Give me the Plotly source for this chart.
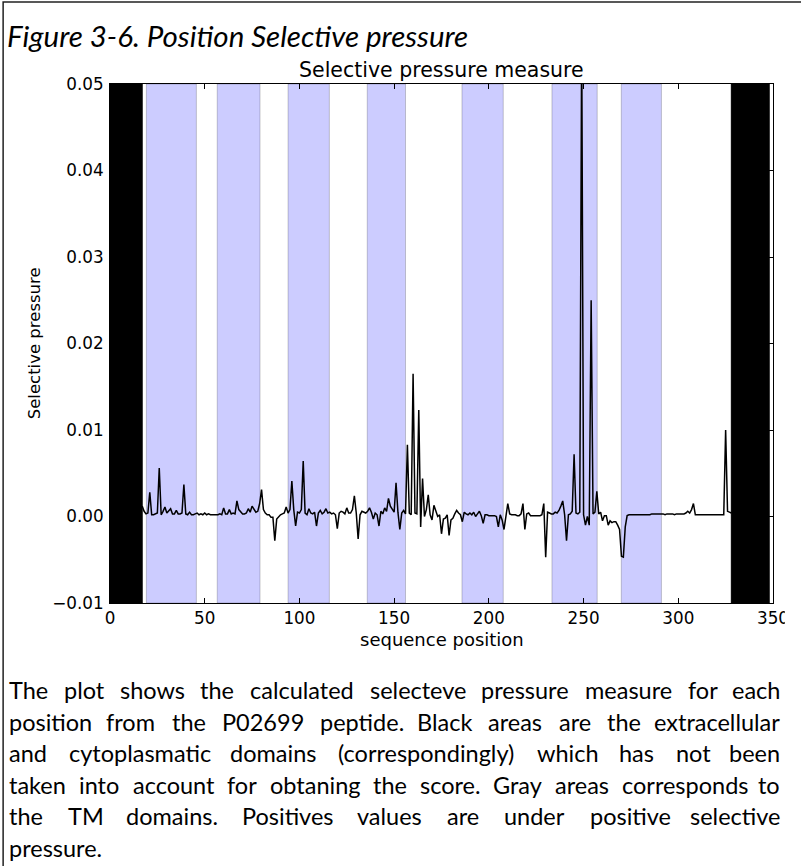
import plotly.graph_objects as go

# ---------------- data ----------------
start_pos = 17
pressure = [
    0.0012, 0.0006, 0.0003, 0.0004, 0.0028, 0.0002, 0.0002, 0.0003, 0.0004, 0.0056,   # 17-26
    0.0002, 0.0006, 0.0011, 0.0004, 0.0006, 0.0009, 0.0003, 0.0003, 0.0007, 0.0003,   # 27-36
    0.0003, 0.0004, 0.0037, 0.0003, 0.0002, 0.0005, 0.0002, 0.0002, 0.0003, 0.0004,   # 37-46
    0.0002, 0.0003, 0.0002, 0.0004, 0.0002, 0.0003, 0.0002, 0.0002, 0.0002, 0.0002,   # 47-56
    0.0002, 0.0003, 0.0002, 0.0010, 0.0003, 0.0003, 0.0008, 0.0003, 0.0004, 0.0003,   # 57-66
    0.0018, 0.0008, 0.0005, 0.0003, 0.0003, 0.0004, 0.0009, 0.0005, 0.0012, 0.0008,   # 67-76
    0.0005, 0.0006, 0.0015, 0.0031, 0.0008, 0.0004, 0.0002, 0.0002, -0.0001, -0.0001, # 77-86
    -0.0028, -0.0003, 0.0000, 0.0002, 0.0003, 0.0004, 0.0011, 0.0004, 0.0008, 0.0041, # 87-96
    0.0008, -0.0011, 0.0005, 0.0004, 0.0008, 0.0064, 0.0004, 0.0002, 0.0009, 0.0004,  # 97-106
    0.0003, 0.0005, -0.0011, 0.0004, 0.0007, 0.0003, 0.0005, 0.0009, 0.0004, 0.0005,  # 107-116
    0.0003, 0.0004, 0.0002, -0.0014, 0.0004, 0.0006, 0.0005, 0.0003, 0.0010, 0.0004,  # 117-126
    0.0004, 0.0008, 0.0024, 0.0004, -0.0026, 0.0002, 0.0006, 0.0005, 0.0004, 0.0006,  # 127-136
    0.0010, 0.0005, -0.0003, 0.0004, 0.0002, -0.0011, 0.0006, 0.0003, 0.0010, 0.0006, # 137-146
    0.0021, 0.0012, 0.0008, 0.0005, 0.0039, 0.0005, -0.0015, 0.0004, 0.0007, 0.0003,  # 147-156
    0.0083, 0.0004, 0.0002, 0.0165, 0.0004, 0.0003, 0.0123, -0.0012, 0.0044, 0.0000,  # 157-166
    0.0008, 0.0025, 0.0002, -0.0004, 0.0013, 0.0005, 0.0000, 0.0002, -0.0020, -0.0003, # 167-176
    -0.0002, 0.0002, -0.0022, -0.0004, -0.0002, 0.0003, 0.0007, 0.0004, 0.0002, -0.0006, # 177-186
    0.0005, 0.0003, 0.0002, 0.0004, 0.0002, 0.0005, 0.0000, 0.0003, 0.0006, 0.0001,   # 187-196
    -0.0008, 0.0002, 0.0002, 0.0001, 0.0001, 0.0001, 0.0001, 0.0000, -0.0012, 0.0002, # 197-206
    -0.0004, -0.0015, 0.0002, 0.0015, 0.0003, 0.0002, 0.0002, 0.0002, 0.0001, 0.0001, # 207-216
    0.0003, 0.0015, -0.0015, 0.0003, 0.0004, 0.0001, 0.0001, 0.0001, 0.0001, 0.0001,  # 217-226
    0.0001, 0.0002, 0.0015, -0.0047, 0.0005, 0.0004, 0.0003, 0.0003, 0.0005, 0.0004,  # 227-236
    0.0007, 0.0012, 0.0018, 0.0002, -0.0028, 0.0002, 0.0003, 0.0006, 0.0072, 0.0004,  # 237-246
    0.0003, 0.0005, 0.0560, 0.0002, -0.0010, 0.0000, -0.0010, 0.0250, 0.0003, 0.0005, # 247-256
    0.0029, 0.0003, 0.0005, -0.0005, 0.0001, 0.0001, -0.0010, -0.0005, -0.0007, -0.0006, # 257-266
    -0.0006, -0.0010, -0.0015, -0.0046, -0.0047, -0.0012, 0.0001, 0.0002, 0.0002, 0.0002, # 267-276
    0.0002, 0.0002, 0.0002, 0.0002, 0.0002, 0.0002, 0.0002, 0.0002, 0.0002, 0.0003,  # 277-286
    0.0003, 0.0003, 0.0003, 0.0003, 0.0003, 0.0003, 0.0002, 0.0003, 0.0003, 0.0003,  # 287-296
    0.0003, 0.0002, 0.0003, 0.0003, 0.0003, 0.0003, 0.0003, 0.0004, 0.0006, 0.0004,  # 297-306
    0.0008, 0.0015, 0.0002, 0.0002, 0.0002, 0.0002, 0.0002, 0.0002, 0.0002, 0.0002,  # 307-316
    0.0002, 0.0002, 0.0002, 0.0002, 0.0002, 0.0002, 0.0002, 0.0002, 0.0100, 0.0006,  # 317-326
    0.0005, 0.0004,                                                                  # 327-328
]
positions = list(range(start_pos, start_pos + len(pressure)))

excluded_start = [0, 328]
excluded_end = [17, 348]
tm_start = [19.2, 56.6, 94.0, 135.8, 185.8, 233.3, 269.9]
tm_end = [45.6, 79.2, 115.8, 156.0, 207.6, 257.2, 291.1]

x_ticks = [0, 50, 100, 150, 200, 250, 300, 350]
y_ticks = [-0.01, 0.00, 0.01, 0.02, 0.03, 0.04, 0.05]

figure_caption = "Figure 3-6. Position Selective pressure"
chart_title = "Selective pressure measure"
x_label = "sequence position"
y_label = "Selective pressure"
paragraph_lines = [
    "The plot shows the calculated selecteve pressure measure for each",
    "position from the P02699 peptide. Black areas are the extracellular",
    "and cytoplasmatic domains (correspondingly) which has not been",
    "taken into account for obtaning the score. Gray areas corresponds to",
    "the TM domains. Positives values are under positive selective",
    "pressure.",
]

# ---------------- layout geometry (pixels) ----------------
W, H = 801, 866
L, R, T, B = 110, 780, 84, 603


def px(x):
    return (x - L) / (R - L)


def py(y):
    return (B - y) / (B - T)


AX_FONT = "DejaVu Sans"
TXT_FONT = "Lato"

fig = go.Figure()
fig.add_trace(go.Scatter(x=positions, y=pressure, mode="lines",
                         line=dict(color="black", width=1.5),
                         hoverinfo="skip", showlegend=False))

shapes = []
for a, b in zip(tm_start, tm_end):
    shapes.append(dict(type="rect", xref="x", yref="paper", x0=a, x1=b, y0=0, y1=1,
                       fillcolor="rgba(0,0,255,0.2)",
                       line=dict(color="rgba(0,0,0,0.2)", width=1), layer="below"))
for a, b in zip(excluded_start, excluded_end):
    shapes.append(dict(type="rect", xref="x", yref="paper", x0=a, x1=b, y0=0, y1=1,
                       fillcolor="black", line=dict(color="black", width=1), layer="below"))
# document frame (left + top edges visible)
shapes.append(dict(type="rect", xref="paper", yref="paper",
                   x0=px(2), x1=px(840), y0=py(900), y1=py(2),
                   line=dict(color="#222", width=1.5), fillcolor="rgba(0,0,0,0)"))
# the source image is cropped just right of the last x tick label
shapes.append(dict(type="rect", xref="paper", yref="paper",
                   x0=px(792), x1=px(805), y0=py(632), y1=py(606),
                   line=dict(width=0), fillcolor="white", layer="above"))

# --------- text ---------
annotations = []
annotations.append(dict(text="<i>" + figure_caption + "</i>", xref="paper", yref="paper",
                        x=px(4), y=py(35), xanchor="left", yanchor="middle", showarrow=False,
                        font=dict(family=TXT_FONT, size=29.5, color="black")))
annotations.append(dict(text=chart_title, xref="paper", yref="paper",
                        x=0.5, y=py(70), xanchor="center", yanchor="middle", showarrow=False,
                        font=dict(family=AX_FONT, size=20.5, color="black")))
annotations.append(dict(text=x_label, xref="paper", yref="paper",
                        x=0.5, y=py(639), xanchor="center", yanchor="middle", showarrow=False,
                        font=dict(family=AX_FONT, size=18, color="black")))
annotations.append(dict(text=y_label, xref="paper", yref="paper", textangle=-90,
                        x=px(34), y=0.5, xanchor="center", yanchor="middle", showarrow=False,
                        font=dict(family=AX_FONT, size=16.5, color="black")))

# justified paragraph: place each word individually
LATO_W = {
    'a': .50, 'b': .56, 'c': .47, 'd': .56, 'e': .52, 'f': .33, 'g': .51, 'h': .56, 'i': .24,
    'j': .24, 'k': .50, 'l': .24, 'm': .85, 'n': .56, 'o': .56, 'p': .55, 'q': .56, 'r': .37,
    's': .42, 't': .35, 'u': .56, 'v': .51, 'w': .77, 'x': .49, 'y': .51, 'z': .45,
    'T': .56, 'P': .60, 'B': .63, 'G': .72, 'M': .86, 'C': .66, 'F': .52,
    '.': .21, '(': .30, ')': .30,
}
for d in "0123456789":
    LATO_W[d] = .58

PFS = 23.5
P_LEFT, P_RIGHT = 7, 788
line_center = [690, 721.5, 753, 784.5, 816, 847.5]


def word_w(wd):
    return sum(LATO_W.get(c, .5) for c in wd) * PFS


for li, (line, yc) in enumerate(zip(paragraph_lines, line_center)):
    words = line.split(" ")
    ycen = py(yc)
    justify = li < len(paragraph_lines) - 1
    widths = [word_w(w) for w in words]
    if justify and len(words) > 1:
        gap = (P_RIGHT - P_LEFT - sum(widths)) / (len(words) - 1)
    else:
        gap = 0.193 * PFS
    xcur = P_LEFT
    for wi, (wd, ww) in enumerate(zip(words, widths)):
        last = justify and wi == len(words) - 1
        annotations.append(dict(text=wd, xref="paper", yref="paper",
                                x=px(P_RIGHT) if last else px(xcur), y=ycen,
                                xanchor="right" if last else "left", yanchor="middle",
                                showarrow=False, borderpad=0,
                                font=dict(family=TXT_FONT, size=PFS, color="black")))
        xcur += ww + gap

axis_common = dict(showgrid=False, zeroline=False, showline=True, linecolor="black",
                   linewidth=1, mirror="ticks", ticks="inside", ticklen=5, tickwidth=1,
                   tickcolor="black", tickfont=dict(family=AX_FONT, size=16.8, color="black"))

fig.update_layout(
    width=W, height=H, autosize=False,
    margin=dict(l=L, r=W - R, t=T, b=H - B, pad=0),
    paper_bgcolor="white", plot_bgcolor="white",
    shapes=shapes, annotations=annotations, showlegend=False,
    xaxis=dict(range=[0, 350], tickvals=x_ticks, ticktext=[str(v) for v in x_ticks],
               ticklabelstandoff=0, **axis_common),
    yaxis=dict(range=[-0.01, 0.05], tickvals=y_ticks, tickformat=".2f",
               ticklabelstandoff=2, **axis_common),
)

fig.write_html("out.html", config={"displayModeBar": False},
               post_script="document.body.style.margin='0';document.body.style.padding='0';")
